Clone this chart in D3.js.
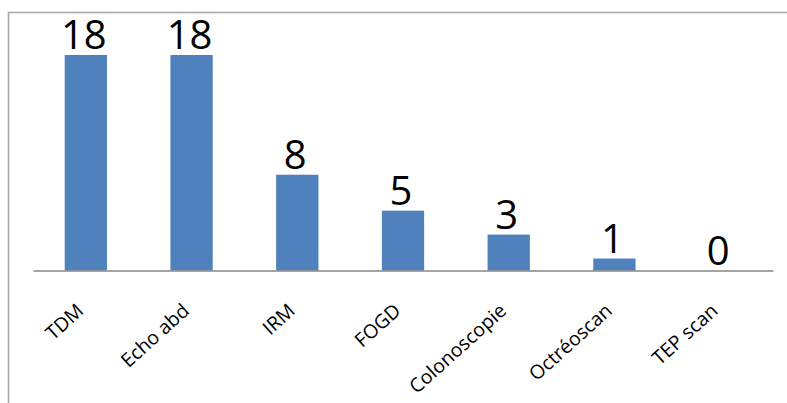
<!DOCTYPE html>
<html>
<head>
<meta charset="utf-8">
<script src="https://cdn.jsdelivr.net/npm/d3@7"></script>
<style>
  html, body { margin: 0; padding: 0; background: #fff; }
  svg { display: block; }
</style>
</head>
<body>
<svg id="chart" width="787" height="403"></svg>
<script>
// Examens réalisés (nombre de patients)
const categories = ["TDM", "Echo abd", "IRM", "FOGD", "Colonoscopie", "Octréoscan", "TEP scan"];
const counts = [18, 18, 8, 5, 3, 1, 0];

const svg = d3.select("#chart");
const W = 787, H = 403;
const baseY = 270.5;

const x = d3.scaleBand()
  .domain(categories)
  .range([33, 773])
  .paddingInner(0.6)
  .paddingOuter(0.3);

const y = d3.scaleLinear()
  .domain([0, 18])
  .range([baseY, 55]);

// outer frame (left and top edges)
svg.append("path")
  .attr("d", `M8.5,${H} L8.5,12.5 L${W},12.5`)
  .attr("fill", "none")
  .attr("stroke", "#a6a6a6")
  .attr("stroke-width", 1.6);

// bars
svg.selectAll("rect.bar")
  .data(categories)
  .join("rect")
  .attr("class", "bar")
  .attr("x", d => x(d))
  .attr("width", x.bandwidth())
  .attr("y", (d, i) => y(counts[i]))
  .attr("height", (d, i) => baseY - y(counts[i]))
  .attr("fill", "#4f81bd");

// category axis
const xAxis = d3.axisBottom(x).tickSize(0).tickPadding(0);
const gx = svg.append("g")
  .attr("transform", `translate(0,${baseY})`)
  .call(xAxis);
gx.select(".domain")
  .attr("stroke", "#868686")
  .attr("stroke-width", 1.6);
gx.selectAll(".tick text")
  .attr("font-family", "'Open Sans', sans-serif")
  .attr("font-size", 19.5)
  .attr("fill", "#000")
  .attr("text-anchor", "end")
  .attr("dy", 0)
  .attr("transform", "translate(-1,42) rotate(-42)");

// value labels
svg.selectAll("text.value")
  .data(categories)
  .join("text")
  .attr("class", "value")
  .attr("x", d => x(d) + x.bandwidth() / 2 - 2)
  .attr("y", (d, i) => y(counts[i]) - 6)
  .attr("text-anchor", "middle")
  .attr("font-family", "'Open Sans', sans-serif")
  .attr("font-size", 40)
  .attr("fill", "#000")
  .text((d, i) => counts[i]);
</script>
</body>
</html>
